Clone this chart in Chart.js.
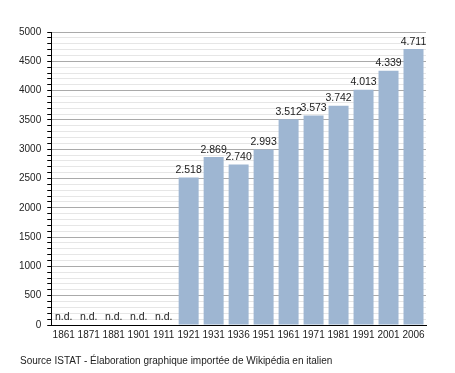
<!DOCTYPE html>
<html>
<head>
<meta charset="utf-8">
<script src="https://cdn.jsdelivr.net/npm/chart.js@4"></script>
<style>
  body { margin: 0; background: #fff; }
  #wrap { position: relative; width: 455px; height: 373px; }
  #source {
    position: absolute; left: 20px; top: 355px; margin: 0;
    font: 10px "Liberation Sans", Arial, sans-serif; color: #222;
  }
</style>
</head>
<body>
<div id="wrap">
  <canvas id="chart"></canvas>
  <p id="source">Source ISTAT - Élaboration graphique importée de Wikipédia en italien</p>
</div>
<script>
'use strict';

// years of the census
let years = ['1861', '1871', '1881', '1901', '1911', '1921', '1931', '1936', '1951', '1961', '1971', '1981', '1991', '2001', '2006'];
// population, null = n.d.
let population = [null, null, null, null, null, 2518, 2869, 2740, 2993, 3512, 3573, 3742, 4013, 4339, 4711];

let barColor = 'rgb(158, 182, 210)';
let fontName = '"Liberation Sans", Arial, sans-serif';

function formatValue(v) {
  return String(v).replace(/\B(?=(\d{3})+(?!\d))/g, '.');
}

// value labels above bars, n.d. for the missing years
let labelPlugin = {
  id: 'barLabels',
  afterDatasetsDraw(chart) {
    let ctx = chart.ctx;
    let meta = chart.getDatasetMeta(0);
    let xScale = chart.scales.x;
    let yScale = chart.scales.y;
    ctx.save();
    ctx.font = '10.5px ' + fontName;
    ctx.fillStyle = '#222';
    ctx.textAlign = 'center';
    ctx.textBaseline = 'bottom';
    for (let i = 0; i < population.length; i++) {
      if (population[i] === null) {
        ctx.fillText('n.d.', xScale.getPixelForValue(i), yScale.bottom - 3);
      } else {
        let bar = meta.data[i];
        ctx.fillText(formatValue(population[i]), bar.x, bar.y - 2);
      }
    }
    ctx.restore();
  }
};

let ctx = document.getElementById('chart').getContext('2d');
let myChart = new Chart(ctx, {
  type: 'bar',
  data: {
    labels: years,
    datasets: [{
      data: population,
      backgroundColor: barColor,
      borderWidth: 0,
      barPercentage: 0.8,
      categoryPercentage: 1
    }]
  },
  options: {
    responsive: true,
    maintainAspectRatio: false,
    animation: false,
    layout: { padding: { left: 13, right: 29, top: 32, bottom: 28 } },
    plugins: {
      legend: { display: false },
      tooltip: { enabled: false }
    },
    scales: {
      x: {
        grid: { drawOnChartArea: false, drawTicks: false },
        border: { display: true, color: '#000', width: 1 },
        ticks: {
          color: '#222',
          font: { family: fontName, size: 10 },
          padding: 4,
          maxRotation: 0,
          autoSkip: false
        }
      },
      y: {
        min: 0,
        max: 5000,
        border: { display: true, color: '#000', width: 1 },
        grid: {
          color: function (c) {
            return c.tick.value % 500 === 0 ? '#aaaaaa' : '#e6e6e6';
          },
          tickColor: '#000',
          tickLength: 4
        },
        ticks: {
          stepSize: 100,
          autoSkip: false,
          color: '#222',
          font: { family: fontName, size: 10 },
          padding: 6,
          callback: function (v) {
            return v % 500 === 0 ? v : '';
          }
        }
      }
    }
  },
  plugins: [labelPlugin]
});
</script>
</body>
</html>
